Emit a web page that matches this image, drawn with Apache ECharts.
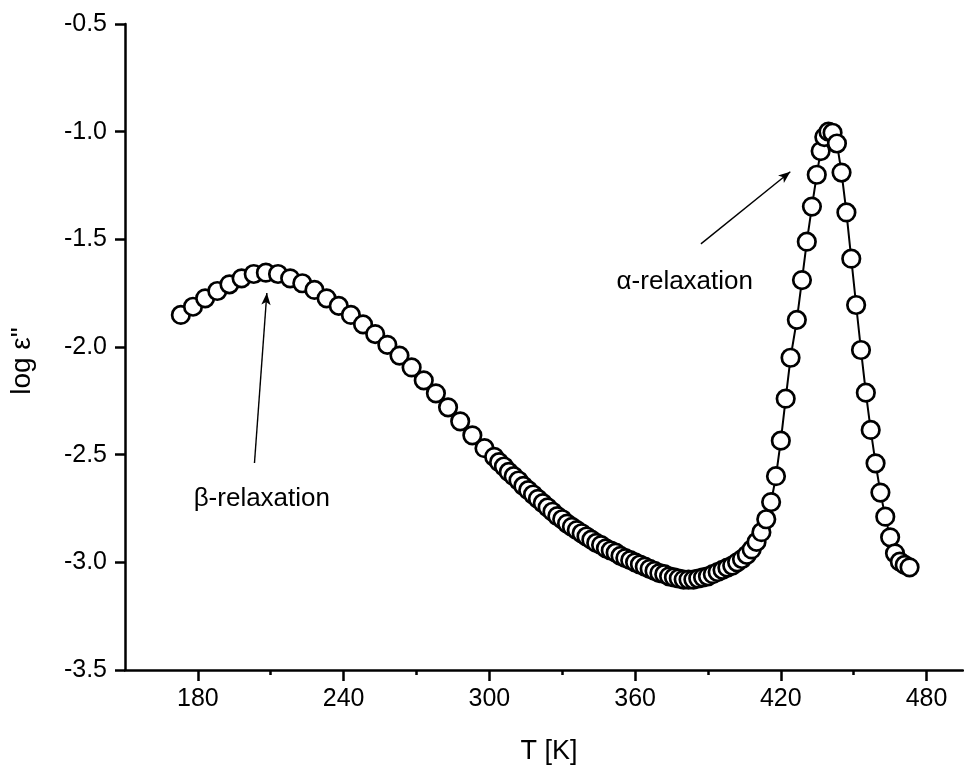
<!DOCTYPE html>
<html>
<head>
<meta charset="utf-8">
<script src="https://cdn.jsdelivr.net/npm/echarts@6/dist/echarts.min.js"></script>
<style>
html,body{margin:0;padding:0;background:#fff;}
#c{width:964px;height:767px;}
</style>
</head>
<body>
<div id="c"></div>
<script>
// ---- data ----
const temperature = [
  // beta region (5 K steps)
  173,178,183,188,193,198,203,208,213,218,223,228,233,238,243,248,253,258,263,268,273,278,283,288,293,298,302,
  // dense region (2 K steps)
  304,306,308,310,312,314,316,318,320,322,
  324,326,328,330,332,334,336,338,340,342,
  344,346,348,350,352,354,356,358,360,362,
  364,366,368,370,372,374,376,378,380,382,
  384,386,388,390,392,394,396,398,400,402,
  404,406,408,410,412,414,416,418,420,422,
  424,
  // alpha peak
  426.6,428.7,430.7,432.8,434.8,436.4,437.9,439.6,441.3,443.1,
  445,447,449,451,453,455,457,459,461,463,
  465,467,469,471,473
];
const logEps = [
  -1.851,-1.813,-1.774,-1.740,-1.709,-1.681,-1.661,-1.655,-1.661,-1.681,-1.704,-1.735,-1.774,-1.809,-1.851,-1.895,-1.94,-1.99,-2.04,-2.095,-2.155,-2.215,-2.28,-2.345,-2.41,-2.47,-2.51,
  -2.535,-2.555,-2.58,-2.60,-2.62,-2.645,-2.665,-2.685,-2.705,-2.725,
  -2.745,-2.765,-2.785,-2.80,-2.82,-2.835,-2.85,-2.865,-2.88,-2.895,
  -2.91,-2.92,-2.935,-2.945,-2.955,-2.97,-2.98,-2.99,-3.00,-3.01,
  -3.02,-3.03,-3.04,-3.05,-3.055,-3.065,-3.07,-3.075,-3.08,-3.08,
  -3.08,-3.075,-3.07,-3.065,-3.055,-3.045,-3.035,-3.025,-3.015,-3.0,
  -2.985,-2.965,-2.94,-2.905,-2.86,-2.80,-2.72,-2.60,-2.435,-2.24,
  -2.05,
  -1.874,-1.689,-1.511,-1.348,-1.20,-1.09,-1.025,-1.0,-1.005,-1.055,
  -1.19,-1.375,-1.59,-1.805,-2.014,-2.212,-2.385,-2.54,-2.676,-2.788,
  -2.884,-2.958,-2.997,-3.012,-3.023
];
const xMajorTicks = [180,240,300,360,420,480];
const xMinorTicks = [210,270,330,390,450];
// annotation arrows [start, end] in data units
const betaArrow = [[203.3,-2.539],[208.4,-1.749]];
const alphaArrow = [[387.1,-1.521],[423.9,-1.186]];
const betaText = 'β-relaxation';
const alphaText = 'α-relaxation';
const xTitle = 'T [K]';
const yTitle = 'log ε"';

const seriesData = temperature.map((t,i)=>[t, logEps[i]]);
const FONT = 'Liberation Sans, Arial, sans-serif';

const chart = echarts.init(document.getElementById('c'), null, {renderer:'canvas'});
chart.setOption({
  animation:false,
  backgroundColor:'#fff',
  grid:{left:125, right:1, top:24, bottom:97, containLabel:false},
  xAxis:[{
    type:'value', min:150, max:495,
    axisLine:{show:true, onZero:false, lineStyle:{color:'#000', width:2.5}},
    axisTick:{show:true, inside:false, length:11, customValues:xMajorTicks, lineStyle:{color:'#000', width:2.5}},
    axisLabel:{show:true, margin:17, customValues:xMajorTicks, fontFamily:FONT, fontSize:25, color:'#000'},
    splitLine:{show:false}
  },{
    type:'value', min:150, max:495, position:'bottom',
    axisLine:{show:false, onZero:false},
    axisTick:{show:true, inside:false, length:5, customValues:xMinorTicks, lineStyle:{color:'#000', width:2.5}},
    axisLabel:{show:false},
    splitLine:{show:false}
  }],
  yAxis:{
    type:'value', min:-3.5, max:-0.5, interval:0.5,
    axisLine:{show:true, onZero:false, lineStyle:{color:'#000', width:2.5}},
    axisTick:{show:true, inside:false, length:10, lineStyle:{color:'#000', width:2.5}},
    axisLabel:{margin:18, fontFamily:FONT, fontSize:25, color:'#000', formatter:v=>v.toFixed(1)},
    splitLine:{show:false}
  },
  series:[{
    type:'line',
    data:seriesData,
    symbol:'circle', symbolSize:17.5, showAllSymbol:true,
    itemStyle:{color:'#fff', borderColor:'#000', borderWidth:2.7},
    lineStyle:{color:'#000', width:2},
    z:3
  },{
    type:'line', data:[], silent:true,
    markLine:{
      silent:true, animation:false,
      symbol:['none','arrow'], symbolSize:[7,12],
      label:{show:false},
      lineStyle:{color:'#000', width:1.4, type:'solid'},
      emphasis:{disabled:true},
      data:[
        [{coord:betaArrow[0]},{coord:betaArrow[1]}],
        [{coord:alphaArrow[0]},{coord:alphaArrow[1]}]
      ]
    }
  }],
  graphic:[
    {type:'text', x:330, y:499, style:{text:betaText, fontFamily:FONT, fontSize:26, fill:'#000', align:'right', verticalAlign:'middle'}},
    {type:'text', x:753, y:282, style:{text:alphaText, fontFamily:FONT, fontSize:26, fill:'#000', align:'right', verticalAlign:'middle'}},
    {type:'text', x:549, y:752, style:{text:xTitle, fontFamily:FONT, fontSize:27, fill:'#000', align:'center', verticalAlign:'middle'}},
    {type:'text', x:22, y:361, rotation:Math.PI/2, style:{text:yTitle, fontFamily:FONT, fontSize:28, fill:'#000', align:'center', verticalAlign:'middle'}}
  ]
});
</script>
</body>
</html>
